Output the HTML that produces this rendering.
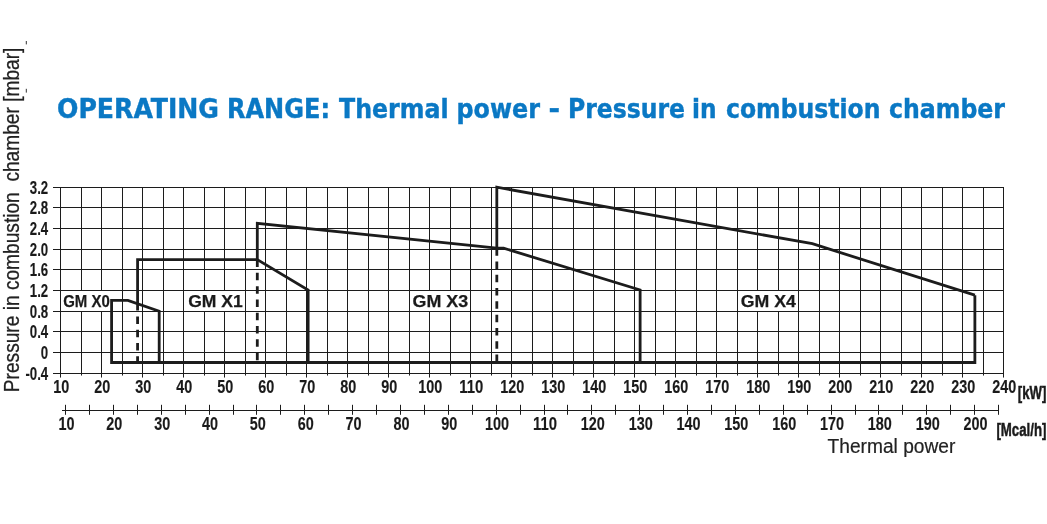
<!DOCTYPE html>
<html lang="en"><head><meta charset="utf-8"><title>Operating range</title>
<style>
html,body{margin:0;padding:0;background:#fff;}
body{width:1047px;height:524px;overflow:hidden;}
svg{display:block;}
.n{font-family:"Liberation Sans",Arial,sans-serif;font-weight:bold;font-size:18.8px;fill:#1a1a1a;stroke:#1a1a1a;stroke-width:0.15px;}
.g{font-family:"Liberation Sans",Arial,sans-serif;font-weight:bold;font-size:17.2px;fill:#1a1a1a;stroke:#1a1a1a;stroke-width:0.25px;}
.r{font-family:"Liberation Sans",Arial,sans-serif;font-weight:normal;fill:#222;}
.t{font-family:"DejaVu Sans Condensed","DejaVu Sans","Liberation Sans",sans-serif;font-weight:bold;fill:#0a78c4;stroke:#0a78c4;stroke-width:0.4px;}
</style></head><body>
<svg width="1047" height="524" viewBox="0 0 1047 524">
<rect width="1047" height="524" fill="#ffffff"/>
<path d="M60.50 187.00V377.56M81.50 187.00V375.56M101.50 187.00V377.56M122.50 187.00V375.56M142.50 187.00V377.56M163.50 187.00V375.56M183.50 187.00V377.56M204.50 187.00V375.56M224.50 187.00V377.56M245.50 187.00V375.56M265.50 187.00V377.56M286.50 187.00V375.56M306.50 187.00V377.56M327.50 187.00V375.56M347.50 187.00V377.56M368.50 187.00V375.56M388.50 187.00V377.56M409.50 187.00V375.56M429.50 187.00V377.56M450.50 187.00V375.56M470.50 187.00V377.56M491.50 187.00V375.56M511.50 187.00V377.56M532.50 187.00V375.56M552.50 187.00V377.56M573.50 187.00V375.56M593.50 187.00V377.56M614.50 187.00V375.56M634.50 187.00V377.56M655.50 187.00V375.56M675.50 187.00V377.56M696.50 187.00V375.56M716.50 187.00V377.56M737.50 187.00V375.56M757.50 187.00V377.56M778.50 187.00V375.56M798.50 187.00V377.56M819.50 187.00V375.56M839.50 187.00V377.56M860.50 187.00V375.56M880.50 187.00V377.56M901.50 187.00V375.56M921.50 187.00V377.56M942.50 187.00V375.56M962.50 187.00V377.56M983.50 187.00V375.56M1003.50 187.00V377.56M53.00 187.50H1004.00M53.00 207.50H1004.00M53.00 228.50H1004.00M53.00 249.50H1004.00M53.00 269.50H1004.00M53.00 290.50H1004.00M53.00 311.50H1004.00M53.00 331.50H1004.00M53.00 352.50H1004.00M53.00 373.50H1004.00" fill="none" stroke="#1c1c1c" stroke-width="1"/>
<rect x="61.00" y="291.00" width="50.00" height="20.00" fill="#fff"/>
<rect x="184.00" y="291.00" width="61.00" height="20.00" fill="#fff"/>
<rect x="410.00" y="291.00" width="60.00" height="20.00" fill="#fff"/>
<rect x="738.00" y="291.00" width="60.00" height="20.00" fill="#fff"/>
<g fill="none" stroke="#1c1c1c" stroke-width="2.8" stroke-linejoin="miter">
<polyline points="974.88,295.17 974.88,362.5 111.59,362.5 111.59,300.33 127.90,300.33 159.19,311.18 159.19,362.5"/>
<polyline points="137.58,303.1 137.58,259.53 257.30,259.53 308.14,290.00 308.14,362.5"/>
<polyline points="257.30,259.53 257.30,223.38 496.82,248.17 503.59,248.17 640.12,290.00 640.12,362.5"/>
<polyline points="496.82,248.17 496.82,187.22 812.32,243.73 974.88,295.17"/>
<line x1="137.58" y1="303.10" x2="137.58" y2="362.5" stroke-dasharray="7.5 5.8"/>
<line x1="257.30" y1="259.53" x2="257.30" y2="362.5" stroke-dasharray="7.5 5.8"/>
<line x1="496.82" y1="248.17" x2="496.82" y2="362.5" stroke-dasharray="7.5 5.8"/>
</g>
<path d="M62 410.5H999.00M65.50 404.8V414.8M89.50 404.8V414.8M113.50 404.8V414.8M137.50 404.8V414.8M161.50 404.8V414.8M185.50 404.8V414.8M209.50 404.8V414.8M233.50 404.8V414.8M256.50 404.8V414.8M280.50 404.8V414.8M304.50 404.8V414.8M328.50 404.8V414.8M352.50 404.8V414.8M376.50 404.8V414.8M400.50 404.8V414.8M424.50 404.8V414.8M448.50 404.8V414.8M472.50 404.8V414.8M496.50 404.8V414.8M520.50 404.8V414.8M544.50 404.8V414.8M567.50 404.8V414.8M591.50 404.8V414.8M615.50 404.8V414.8M639.50 404.8V414.8M663.50 404.8V414.8M687.50 404.8V414.8M711.50 404.8V414.8M735.50 404.8V414.8M759.50 404.8V414.8M783.50 404.8V414.8M807.50 404.8V414.8M831.50 404.8V414.8M855.50 404.8V414.8M878.50 404.8V414.8M902.50 404.8V414.8M926.50 404.8V414.8M950.50 404.8V414.8M974.50 404.8V414.8M998.50 404.8V414.8" fill="none" stroke="#1c1c1c" stroke-width="1"/>
<text class="n" x="61.30" y="392.70" text-anchor="middle" textLength="16.02" lengthAdjust="spacingAndGlyphs">10</text>
<text class="n" x="102.30" y="392.70" text-anchor="middle" textLength="16.02" lengthAdjust="spacingAndGlyphs">20</text>
<text class="n" x="143.30" y="392.70" text-anchor="middle" textLength="16.02" lengthAdjust="spacingAndGlyphs">30</text>
<text class="n" x="184.30" y="392.70" text-anchor="middle" textLength="16.02" lengthAdjust="spacingAndGlyphs">40</text>
<text class="n" x="225.30" y="392.70" text-anchor="middle" textLength="16.02" lengthAdjust="spacingAndGlyphs">50</text>
<text class="n" x="266.30" y="392.70" text-anchor="middle" textLength="16.02" lengthAdjust="spacingAndGlyphs">60</text>
<text class="n" x="307.30" y="392.70" text-anchor="middle" textLength="16.02" lengthAdjust="spacingAndGlyphs">70</text>
<text class="n" x="348.30" y="392.70" text-anchor="middle" textLength="16.02" lengthAdjust="spacingAndGlyphs">80</text>
<text class="n" x="389.30" y="392.70" text-anchor="middle" textLength="16.02" lengthAdjust="spacingAndGlyphs">90</text>
<text class="n" x="430.30" y="392.70" text-anchor="middle" textLength="24.02" lengthAdjust="spacingAndGlyphs">100</text>
<text class="n" x="471.30" y="392.70" text-anchor="middle" textLength="24.02" lengthAdjust="spacingAndGlyphs">110</text>
<text class="n" x="512.30" y="392.70" text-anchor="middle" textLength="24.02" lengthAdjust="spacingAndGlyphs">120</text>
<text class="n" x="553.30" y="392.70" text-anchor="middle" textLength="24.02" lengthAdjust="spacingAndGlyphs">130</text>
<text class="n" x="594.30" y="392.70" text-anchor="middle" textLength="24.02" lengthAdjust="spacingAndGlyphs">140</text>
<text class="n" x="635.30" y="392.70" text-anchor="middle" textLength="24.02" lengthAdjust="spacingAndGlyphs">150</text>
<text class="n" x="676.30" y="392.70" text-anchor="middle" textLength="24.02" lengthAdjust="spacingAndGlyphs">160</text>
<text class="n" x="717.30" y="392.70" text-anchor="middle" textLength="24.02" lengthAdjust="spacingAndGlyphs">170</text>
<text class="n" x="758.30" y="392.70" text-anchor="middle" textLength="24.02" lengthAdjust="spacingAndGlyphs">180</text>
<text class="n" x="799.30" y="392.70" text-anchor="middle" textLength="24.02" lengthAdjust="spacingAndGlyphs">190</text>
<text class="n" x="840.30" y="392.70" text-anchor="middle" textLength="24.02" lengthAdjust="spacingAndGlyphs">200</text>
<text class="n" x="881.30" y="392.70" text-anchor="middle" textLength="24.02" lengthAdjust="spacingAndGlyphs">210</text>
<text class="n" x="922.30" y="392.70" text-anchor="middle" textLength="24.02" lengthAdjust="spacingAndGlyphs">220</text>
<text class="n" x="963.30" y="392.70" text-anchor="middle" textLength="24.02" lengthAdjust="spacingAndGlyphs">230</text>
<text class="n" x="1004.30" y="392.70" text-anchor="middle" textLength="24.02" lengthAdjust="spacingAndGlyphs">240</text>
<text class="n" x="66.50" y="429.70" text-anchor="middle" textLength="16.02" lengthAdjust="spacingAndGlyphs">10</text>
<text class="n" x="114.34" y="429.70" text-anchor="middle" textLength="16.02" lengthAdjust="spacingAndGlyphs">20</text>
<text class="n" x="162.19" y="429.70" text-anchor="middle" textLength="16.02" lengthAdjust="spacingAndGlyphs">30</text>
<text class="n" x="210.04" y="429.70" text-anchor="middle" textLength="16.02" lengthAdjust="spacingAndGlyphs">40</text>
<text class="n" x="257.88" y="429.70" text-anchor="middle" textLength="16.02" lengthAdjust="spacingAndGlyphs">50</text>
<text class="n" x="305.73" y="429.70" text-anchor="middle" textLength="16.02" lengthAdjust="spacingAndGlyphs">60</text>
<text class="n" x="353.57" y="429.70" text-anchor="middle" textLength="16.02" lengthAdjust="spacingAndGlyphs">70</text>
<text class="n" x="401.41" y="429.70" text-anchor="middle" textLength="16.02" lengthAdjust="spacingAndGlyphs">80</text>
<text class="n" x="449.26" y="429.70" text-anchor="middle" textLength="16.02" lengthAdjust="spacingAndGlyphs">90</text>
<text class="n" x="497.11" y="429.70" text-anchor="middle" textLength="24.02" lengthAdjust="spacingAndGlyphs">100</text>
<text class="n" x="544.95" y="429.70" text-anchor="middle" textLength="24.02" lengthAdjust="spacingAndGlyphs">110</text>
<text class="n" x="592.80" y="429.70" text-anchor="middle" textLength="24.02" lengthAdjust="spacingAndGlyphs">120</text>
<text class="n" x="640.64" y="429.70" text-anchor="middle" textLength="24.02" lengthAdjust="spacingAndGlyphs">130</text>
<text class="n" x="688.49" y="429.70" text-anchor="middle" textLength="24.02" lengthAdjust="spacingAndGlyphs">140</text>
<text class="n" x="736.33" y="429.70" text-anchor="middle" textLength="24.02" lengthAdjust="spacingAndGlyphs">150</text>
<text class="n" x="784.18" y="429.70" text-anchor="middle" textLength="24.02" lengthAdjust="spacingAndGlyphs">160</text>
<text class="n" x="832.02" y="429.70" text-anchor="middle" textLength="24.02" lengthAdjust="spacingAndGlyphs">170</text>
<text class="n" x="879.87" y="429.70" text-anchor="middle" textLength="24.02" lengthAdjust="spacingAndGlyphs">180</text>
<text class="n" x="927.71" y="429.70" text-anchor="middle" textLength="24.02" lengthAdjust="spacingAndGlyphs">190</text>
<text class="n" x="975.56" y="429.70" text-anchor="middle" textLength="24.02" lengthAdjust="spacingAndGlyphs">200</text>
<text class="n" x="48.20" y="193.82" text-anchor="end" textLength="18.39" lengthAdjust="spacingAndGlyphs">3.2</text>
<text class="n" x="48.20" y="214.48" text-anchor="end" textLength="18.39" lengthAdjust="spacingAndGlyphs">2.8</text>
<text class="n" x="48.20" y="235.14" text-anchor="end" textLength="18.39" lengthAdjust="spacingAndGlyphs">2.4</text>
<text class="n" x="48.20" y="255.80" text-anchor="end" textLength="18.39" lengthAdjust="spacingAndGlyphs">2.0</text>
<text class="n" x="48.20" y="276.46" text-anchor="end" textLength="18.39" lengthAdjust="spacingAndGlyphs">1.6</text>
<text class="n" x="48.20" y="297.12" text-anchor="end" textLength="18.39" lengthAdjust="spacingAndGlyphs">1.2</text>
<text class="n" x="48.20" y="317.78" text-anchor="end" textLength="18.39" lengthAdjust="spacingAndGlyphs">0.8</text>
<text class="n" x="48.20" y="338.44" text-anchor="end" textLength="18.39" lengthAdjust="spacingAndGlyphs">0.4</text>
<text class="n" x="48.20" y="359.10" text-anchor="end" textLength="7.36" lengthAdjust="spacingAndGlyphs">0</text>
<text class="n" x="48.20" y="379.76" text-anchor="end" textLength="22.79" lengthAdjust="spacingAndGlyphs">-0.4</text>
<text class="n" x="1017.80" y="399.40" text-anchor="start" textLength="28.6" lengthAdjust="spacingAndGlyphs" style="stroke-width:0.5px">[kW]</text>
<text class="n" x="996.40" y="436.20" text-anchor="start" textLength="50" lengthAdjust="spacingAndGlyphs" style="stroke-width:0.5px">[Mcal/h]</text>
<text class="g" x="63.20" y="307.00" text-anchor="start" textLength="46.6" lengthAdjust="spacingAndGlyphs">GM X0</text>
<text class="g" x="188.20" y="307.00" text-anchor="start" textLength="54.6" lengthAdjust="spacingAndGlyphs">GM X1</text>
<text class="g" x="412.50" y="307.00" text-anchor="start" textLength="55.6" lengthAdjust="spacingAndGlyphs">GM X3</text>
<text class="g" x="740.80" y="307.00" text-anchor="start" textLength="55.1" lengthAdjust="spacingAndGlyphs">GM X4</text>
<text class="r" x="827.60" y="453.00" text-anchor="start" textLength="127.8" lengthAdjust="spacingAndGlyphs" style="font-size:19.6px;stroke:#222;stroke-width:0.2px">Thermal power</text>
<text class="r" transform="translate(19.1 392.2) rotate(-90)" x="0" y="0" textLength="344.6" lengthAdjust="spacingAndGlyphs" style="font-size:21.2px;stroke:#222;stroke-width:0.25px;white-space:pre" xml:space="preserve">Pressure in combustion  chamber [mbar]</text>
<text class="t" x="57.00" y="117.7" textLength="162.00" lengthAdjust="spacingAndGlyphs" style="font-size:26.9px">OPERATING</text>
<text class="t" x="227.00" y="117.7" textLength="103.00" lengthAdjust="spacingAndGlyphs" style="font-size:26.9px">RANGE:</text>
<text class="t" x="339.00" y="117.7" textLength="109.50" lengthAdjust="spacingAndGlyphs" style="font-size:26.9px">Thermal</text>
<text class="t" x="456.50" y="117.7" textLength="83.50" lengthAdjust="spacingAndGlyphs" style="font-size:26.9px">power</text>
<text class="t" x="548.50" y="117.7" textLength="11.50" lengthAdjust="spacingAndGlyphs" style="font-size:26.9px">-</text>
<text class="t" x="568.00" y="117.7" textLength="117.00" lengthAdjust="spacingAndGlyphs" style="font-size:26.9px">Pressure</text>
<text class="t" x="692.00" y="117.7" textLength="24.50" lengthAdjust="spacingAndGlyphs" style="font-size:26.9px">in</text>
<text class="t" x="726.00" y="117.7" textLength="154.50" lengthAdjust="spacingAndGlyphs" style="font-size:26.9px">combustion</text>
<text class="t" x="889.00" y="117.7" textLength="116.00" lengthAdjust="spacingAndGlyphs" style="font-size:26.9px">chamber</text>
<rect x="25.8" y="41" width="1" height="3.4" fill="#333"/><rect x="25.8" y="88.8" width="1" height="3.8" fill="#333"/>
</svg>
</body></html>
